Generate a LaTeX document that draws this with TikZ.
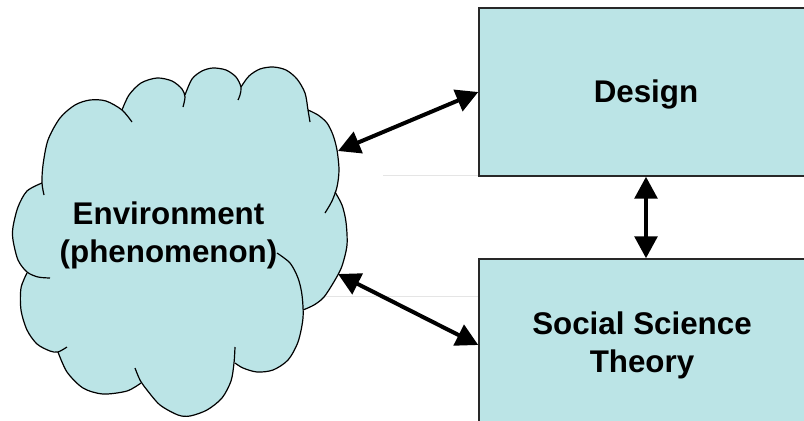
\documentclass[tikz,border=0pt]{standalone}
\usepackage{fontspec}
\setmainfont{Liberation Sans}
\usetikzlibrary{arrows.meta}
\definecolor{boxfill}{RGB}{187,228,230}
\definecolor{boxline}{RGB}{40,40,40}
\begin{document}
\begin{tikzpicture}[x=0.75pt,y=-0.75pt,
  lbl/.style={font=\fontsize{23.5}{28.5}\selectfont\bfseries, align=center, text=black},
  boxnode/.style={draw=boxline, line width=1.1pt, fill=boxfill, inner sep=0pt},
  cloudline/.style={draw=black, line width=0.9pt},
  cloudfill/.style={fill=boxfill},
  arr/.style={line width=3pt, {Triangle[length=16.5pt,width=17pt]}-{Triangle[length=16.5pt,width=17pt]}},
  faint/.style={draw=black!10, line width=0.6pt}]
\useasboundingbox (0,0) rectangle (804,421);
\clip (0,0) rectangle (804,421);
\fill[white] (0,0) rectangle (804,421);
\draw[faint] (383,175.5) -- (479,175.5);
\draw[faint] (320,296) -- (479,296);
% cloud fill
\path[cloudfill]
  plot[smooth] coordinates {(44,195) (42,183) (43,165) (48,140) (60,118) (75,105) (90,100) (106,101) (122,110) (132,122)}
  -- plot[smooth] coordinates {(122,110) (129,95) (141,83) (157,78) (172,81) (182,89) (185,97) (183,107)}
  -- plot[smooth] coordinates {(185,95) (192,79) (202,71) (213,68) (226,70) (236,77) (241,87) (240,95) (238,100)}
  -- plot[smooth] coordinates {(241,87) (249,76) (260,69) (273,67) (286,70) (297,79) (305,93) (308,110) (310,122)}
  -- plot[smooth] coordinates {(308,110) (318,115) (327,123) (333,135) (337,150) (339,170) (337,187) (332,201) (325,213)}
  -- plot[smooth] coordinates {(335,192) (342,205) (346,222) (347,245) (342,266) (335,280) (324,297) (314,305) (303,310)}
  -- plot[smooth] coordinates {(277,253) (290,263) (298,278) (302,295) (303,318) (298,342) (288,360) (273,370) (257,372) (243,368) (235,363)}
  -- plot[smooth] coordinates {(235,347) (234,363) (231,381) (222,398) (207,410) (190,416) (178,415) (160,405) (147,390) (140,380) (135,368)}
  -- plot[smooth] coordinates {(141,383) (127,391) (103,394) (83,388) (67,372) (58,352)}
  -- plot[smooth] coordinates {(67,347) (58,352) (50,351) (37,344) (27,330) (21,310) (21,288) (27,273)}
  -- plot[smooth] coordinates {(50,278) (38,277) (27,272) (18,260) (13,240) (13,227) (18,207) (27,191) (42,183)}
  -- cycle;
% cloud outline
\draw[cloudline] plot[smooth] coordinates {(44,195) (42,183) (43,165) (48,140) (60,118) (75,105) (90,100) (106,101) (122,110) (132,122)};
\draw[cloudline] plot[smooth] coordinates {(122,110) (129,95) (141,83) (157,78) (172,81) (182,89) (185,97) (183,107)};
\draw[cloudline] plot[smooth] coordinates {(185,95) (192,79) (202,71) (213,68) (226,70) (236,77) (241,87) (240,95) (238,100)};
\draw[cloudline] plot[smooth] coordinates {(241,87) (249,76) (260,69) (273,67) (286,70) (297,79) (305,93) (308,110) (310,122)};
\draw[cloudline] plot[smooth] coordinates {(308,110) (318,115) (327,123) (333,135) (337,150) (339,170) (337,187) (332,201) (325,213)};
\draw[cloudline] plot[smooth] coordinates {(335,192) (342,205) (346,222) (347,245) (342,266) (335,280) (324,297) (314,305) (303,310)};
\draw[cloudline] plot[smooth] coordinates {(277,253) (290,263) (298,278) (302,295) (303,318) (298,342) (288,360) (273,370) (257,372) (243,368) (235,363)};
\draw[cloudline] plot[smooth] coordinates {(235,347) (234,363) (231,381) (222,398) (207,410) (190,416) (178,415) (160,405) (147,390) (140,380) (135,368)};
\draw[cloudline] plot[smooth] coordinates {(141,383) (127,391) (103,394) (83,388) (67,372) (58,352)};
\draw[cloudline] plot[smooth] coordinates {(67,347) (58,352) (50,351) (37,344) (27,330) (21,310) (21,288) (27,273)};
\draw[cloudline] plot[smooth] coordinates {(50,278) (38,277) (27,272) (18,260) (13,240) (13,227) (18,207) (27,191) (42,183)};
\node[lbl] (env) at (168.5,235.5) {Environment\\(phenomenon)};
\coordinate (envT) at (338,151);
\coordinate (envB) at (338,274);
% boxes
\node[boxnode, lbl, minimum width=250.5pt, minimum height=126pt, text depth=1.4pt] (design) at (646,92) {Design};
\node[boxnode, lbl, minimum width=244.5pt, minimum height=129pt] (social) at (642,345) {Social Science\\Theory};
% connectors
\draw[arr] (envT) -- (design.west);
\draw[arr] (envB) -- (social.west);
\draw[arr] (design.south) -- (design.south |- social.north);
\end{tikzpicture}
\end{document}
